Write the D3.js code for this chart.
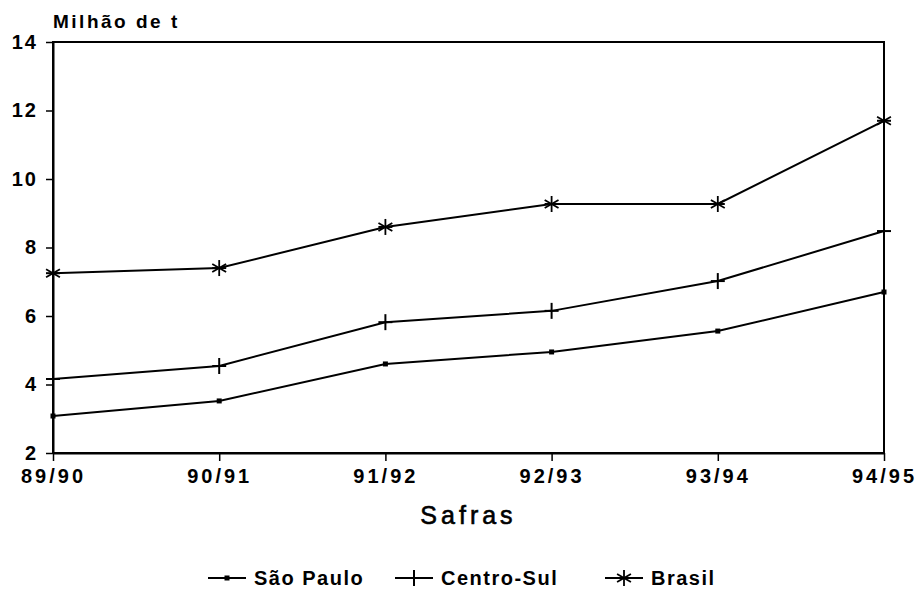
<!DOCTYPE html>
<html>
<head>
<meta charset="utf-8">
<script src="https://cdn.jsdelivr.net/npm/d3@7"></script>
<style>
  body { margin: 0; background: #fff; }
  text { font-family: "Liberation Sans", Arial, sans-serif; font-weight: bold; fill: #000; }
</style>
</head>
<body>
<div id="chart"></div>
<script>
var safras = ["89/90", "90/91", "91/92", "92/93", "93/94", "94/95"];
var saoPaulo = [3.08, 3.52, 4.6, 4.95, 5.56, 6.7];
var centroSul = [4.16, 4.54, 5.82, 6.15, 7.02, 8.48];
var brasil = [7.25, 7.4, 8.6, 9.27, 9.27, 11.7];
var yTicks = [2, 4, 6, 8, 10, 12, 14];
var seriesNames = ["São Paulo", "Centro-Sul", "Brasil"];

var margin = {top: 42, right: 37, bottom: 140, left: 53},
    width = 921 - margin.left - margin.right,
    height = 593 - margin.top - margin.bottom;

var svg = d3.select("#chart")
    .append("svg")
        .attr("width", 921)
        .attr("height", 593)
    .append("g")
        .attr("transform", "translate(" + margin.left + "," + margin.top + ")");

var x = d3.scalePoint()
    .domain(safras)
    .range([0, width]);

var y = d3.scaleLinear()
    .domain([2, 14])
    .range([height, 0]);

// frame
svg.append("rect")
    .attr("width", width)
    .attr("height", height)
    .attr("fill", "none")
    .attr("stroke", "#000")
    .attr("stroke-width", 2);

var yAxis = svg.append("g")
    .call(d3.axisLeft(y).tickValues(yTicks).tickSize(7).tickPadding(8).tickSizeOuter(0));
yAxis.select(".domain").attr("stroke-width", 2);
yAxis.selectAll("line").attr("stroke-width", 1.5);
yAxis.selectAll("text")
    .style("font-size", "20px")
    .style("letter-spacing", "2px")
    .style("font-family", "Liberation Sans, Arial, sans-serif")
    .style("font-weight", "bold");

var xAxis = svg.append("g")
    .attr("transform", "translate(0," + height + ")")
    .call(d3.axisBottom(x).tickSize(8).tickPadding(8).tickSizeOuter(0));
xAxis.select(".domain").attr("stroke-width", 2);
xAxis.selectAll("line").attr("stroke-width", 1.5);
xAxis.selectAll("text")
    .style("font-size", "20px")
    .style("letter-spacing", "3px")
    .style("font-family", "Liberation Sans, Arial, sans-serif")
    .style("font-weight", "bold");

// titles
svg.append("text")
    .attr("x", 0)
    .attr("y", -14)
    .style("font-size", "19px")
    .style("letter-spacing", "2.5px")
    .text("Milhão de t");

svg.append("text")
    .attr("x", width / 2)
    .attr("y", 482)
    .attr("text-anchor", "middle")
    .style("font-size", "25px")
    .style("font-weight", "normal")
    .style("letter-spacing", "4px")
    .style("stroke", "#000")
    .style("stroke-width", 0.6)
    .text("Safras");

var line = d3.line()
    .x(function(d, i) { return x(safras[i]); })
    .y(function(d) { return y(d); });

var allSeries = [saoPaulo, centroSul, brasil];

allSeries.forEach(function(s) {
    svg.append("path")
        .datum(s)
        .attr("fill", "none")
        .attr("stroke", "#000")
        .attr("stroke-width", 2)
        .attr("d", line);
});

function drawMarker(g, type, cx, cy) {
    if (type === 0) {
        g.append("rect")
            .attr("x", cx - 2.5).attr("y", cy - 2.5)
            .attr("width", 5).attr("height", 5)
            .attr("fill", "#000");
    } else if (type === 1) {
        g.append("line")
            .attr("x1", cx).attr("x2", cx)
            .attr("y1", cy - 8).attr("y2", cy + 8)
            .attr("stroke", "#000").attr("stroke-width", 2);
        g.append("line")
            .attr("x1", cx - 7).attr("x2", cx + 7)
            .attr("y1", cy).attr("y2", cy)
            .attr("stroke", "#000").attr("stroke-width", 2);
    } else {
        var r = 8;
        [90, 30, 150].forEach(function(a) {
            var rad = a * Math.PI / 180;
            g.append("line")
                .attr("x1", cx - r * Math.cos(rad)).attr("x2", cx + r * Math.cos(rad))
                .attr("y1", cy - r * Math.sin(rad)).attr("y2", cy + r * Math.sin(rad))
                .attr("stroke", "#000").attr("stroke-width", 1.8);
        });
        g.append("line")
            .attr("x1", cx - 7).attr("x2", cx + 7)
            .attr("y1", cy).attr("y2", cy)
            .attr("stroke", "#000").attr("stroke-width", 2);
    }
}

allSeries.forEach(function(s, k) {
    s.forEach(function(d, i) {
        drawMarker(svg, k, x(safras[i]), y(d));
    });
});

// legend
var legendX = [155, 342, 552];
var legend = svg.append("g")
    .attr("transform", "translate(0," + 536 + ")");

seriesNames.forEach(function(name, k) {
    var lx = legendX[k];
    legend.append("line")
        .attr("x1", lx).attr("x2", lx + 38)
        .attr("y1", 0).attr("y2", 0)
        .attr("stroke", "#000").attr("stroke-width", 2);
    drawMarker(legend, k, lx + 19, 0);
    legend.append("text")
        .attr("x", lx + 46)
        .attr("y", 7)
        .style("font-size", "20px")
        .style("letter-spacing", "1.5px")
        .text(name);
});
</script>
</body>
</html>
